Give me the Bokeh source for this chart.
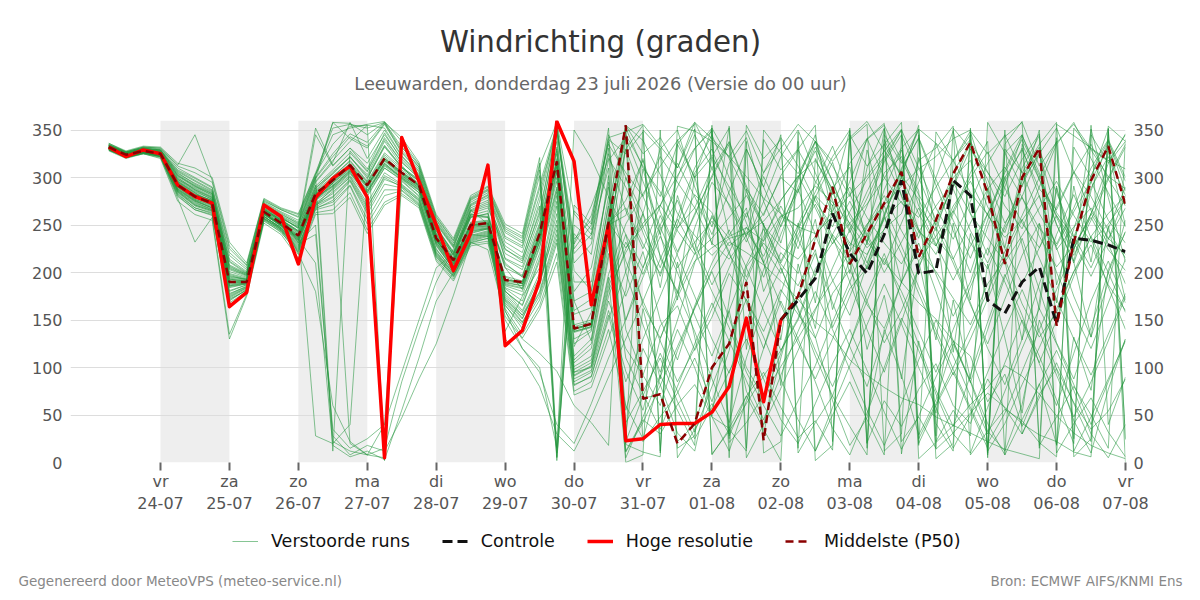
from datetime import datetime, timedelta

from bokeh.embed import file_html
from bokeh.layouts import column
from bokeh.models import (BoxAnnotation, FixedTicker, Label, Legend, LegendItem,
                          LinearAxis, Range1d)
from bokeh.plotting import figure
from bokeh.resources import INLINE

FONT = "DejaVu Sans"

# ---- time axis: 6-hourly steps from Thu 23-07-2026 06:00 (x in days since 23-07 00:00)
run_date = datetime(2026, 7, 23)
n_steps = 60
step_days = 0.25
first_step = 0.25
tick_days = list(range(1, 16))                 # 24-07 ... 07-08
band_days = [1, 3, 5, 7, 9, 11, 13]            # alternate day shading
dutch_days = ["ma", "di", "wo", "do", "vr", "za", "zo"]

# ---- deterministic runs (degrees)
hoge_resolutie = [332, 322, 329, 325, 292, 280, 273, 164, 179, 271,
                  259, 209, 279, 299, 312, 279, 5, 342, 296, 250,
                  202, 241, 313, 123, 139, 192, 359, 317, 166, 250,
                  23, 25, 40, 41, 41, 53, 80, 152, 64, 150]

controle_start = 39
controle = [150, 171, 194, 262, 220, 199, 240, 297, 199, 202,
            297, 281, 171, 157, 190, 206, 146, 236, 234, 229, 222]

middelste_p50 = [332, 324, 328, 325, 292, 280, 273, 190, 190, 264,
                 252, 239, 283, 297, 313, 292, 320, 305, 292, 236,
                 213, 250, 252, 192, 190, 241, 317, 141, 146, 253,
                 355, 67, 72, 20, 41, 100, 125, 190, 23, 150,
                 175, 235, 290, 209, 241, 273, 306, 216, 255, 304,
                 337, 283, 209, 300, 331, 144, 232, 297, 333, 271]

# ---- perturbed ensemble members (degrees)
members = [
    [330,323,327,326,296,284,270,186,188,262, 250,236,281,301,318,296,326,310,296,240, 209,258,262,205,182,232,332,170,128,236, 352,310,285,247,268,231,214,239,262,300, 284,338,276,213,247,305,322,286,41,12, 348,291,226,310,344,187,246,302,339,286],
    [333,325,329,324,290,278,275,193,191,266, 256,244,289,306,321,303,338,313,290,233, 215,266,251,138,175,205,308,122,158,262, 343,22,48,73,110,64,118,206,231,209, 186,224,142,183,205,246,262,318,331,354, 8,33,56,44,21,6,352,329,301,288],
    [331,322,330,327,302,291,281,201,195,270, 259,246,345,312,331,309,347,318,301,246, 221,270,279,214,203,252,345,156,163,272, 355,339,303,262,239,218,236,241,254,276, 301,318,288,262,232,211,190,168,151,128, 112,64,93,38,83,19,132,76,203,243],
    [329,321,326,323,285,271,265,178,185,258, 248,231,276,294,309,284,315,299,284,228, 204,241,246,181,160,199,281,101,112,198, 251,283,312,339,356,9,33,62,91,118, 152,204,231,252,272,299,331,351,14,31, 52,73,58,41,29,22,11,6,354,338],
    [334,326,331,328,306,296,286,211,199,272, 262,251,298,358,341,331,356,326,306,251, 226,271,281,232,221,281,356,202,181,302, 11,42,81,122,163,203,232,221,208,191, 172,148,133,108,92,79,68,61,48,39, 31,22,14,9,4,356,344,331,318,309],
    [332,324,328,325,288,276,268,170,182,260, 245,225,270,285,300,270,300,290,276,221, 199,236,241,171,151,191,262,91,101,181, 221,252,271,302,331,349,21,42,71,101, 131,162,191,222,251,271,291,309,322,341, 350,12,41,82,121,162,201,238,262,281],
    [335,327,332,330,310,300,290,221,205,275, 266,258,301,22,12,8,5,332,311,256, 231,276,286,242,231,302,6,241,219,331, 19,11,6,354,349,338,322,301,278,262, 248,241,259,282,301,328,351,4,21,39, 61,79,102,91,72,49,31,18,10,4],
    [330,322,326,322,280,266,260,165,178,255, 242,221,266,271,291,251,281,286,271,216, 196,231,236,166,141,171,231,81,91,151, 201,262,184,281,223,321,239,268,180,221, 199,256,161,214,119,176,88,212,129,252, 171,289,212,129,251,168,291,211,328,249],
    [336,328,333,332,315,310,300,232,210,278, 268,262,305,352,356,352,358,342,316,261, 236,281,291,251,241,321,16,271,251,352, 31,162,88,211,132,49,171,288,211,129, 252,168,289,311,229,351,9,128,52,171, 88,209,131,52,169,291,211,132,249,171],
    [328,320,325,320,275,261,255,130,175,252, 240,215,261,262,279,241,271,281,268,212, 191,228,231,159,131,161,211,71,79,131, 181,309,241,171,301,229,354,119,252,81, 209,141,271,199,329,261,189,321,249,116, 241,169,301,229,161,289,221,351,279,211],
    [332,324,327,324,294,282,276,195,193,266, 254,241,285,299,315,294,322,306,293,238, 212,252,254,195,188,240,318,143,148,255, 354,68,71,22,40,98,126,191,26,152, 176,236,291,208,240,274,307,216,257,305, 337,285,211,301,332,146,233,296,333,272],
    [331,323,328,326,298,288,279,205,197,268, 257,248,295,316,358,320,350,322,303,248, 218,262,268,225,212,262,350,210,230,318, 342,296,248,205,232,254,228,243,217,259, 268,291,274,252,226,245,302,277,236,214, 252,288,311,279,246,228,264,296,255,231],
    [334,326,330,329,305,293,284,208,199,271, 260,231,250,28,8,18,12,47,88,125, 176,232,224,154,130,115,96,60,42,18, 355,325,342,310,351,8,35,12,350,326, 304,338,312,280,341,357,22,48,15,352, 330,305,280,319,346,10,41,68,32,6],
    [330,321,326,324,287,274,266,175,184,259, 247,229,271,289,306,280,310,297,281,225, 201,239,244,176,155,185,270,95,105,190, 240,165,131,174,212,226,238,247,233,260, 248,281,262,231,219,256,275,243,228,270, 296,260,237,255,281,224,248,268,236,219],
    [333,325,330,327,300,287,278,197,192,267, 255,243,287,304,322,299,333,311,298,241, 214,261,258,210,195,245,325,180,205,290, 12,45,30,61,82,48,36,70,95,58, 26,44,13,352,21,65,38,77,104,60, 41,88,57,30,72,99,63,35,54,88],
    [329,322,327,322,283,268,262,172,181,256, 244,222,267,276,296,262,293,289,273,218, 197,233,238,168,147,180,245,88,97,170, 120,92,144,165,118,153,199,171,138,182, 156,131,178,203,166,141,190,225,201,173, 145,188,214,167,132,158,201,229,187,160],
    [336,327,332,331,312,305,295,225,207,276, 266,259,303,345,352,356,359,338,314,258, 233,278,288,246,236,312,358,262,240,342, 348,356,333,310,358,341,322,349,305,331, 356,338,317,342,359,328,304,351,336,318, 349,325,343,358,312,337,356,330,317,345],
    [331,324,329,325,293,281,272,189,190,263, 251,238,282,296,312,291,318,304,291,235, 209,249,250,190,186,236,312,140,145,250, 260,320,215,180,247,295,272,238,301,262, 225,279,316,258,233,287,329,270,244,300, 318,269,242,296,325,263,237,289,322,281],
    [332,323,328,326,291,279,272,188,189,262, 250,237,280,294,20,8,40,302,289,234, 207,247,249,187,183,232,305,137,142,246, 55,120,82,31,12,95,160,75,40,110, 178,132,65,18,47,140,92,29,66,125, 85,33,12,61,150,98,44,10,77,130],
    [330,322,327,323,286,273,267,177,186,261, 249,234,278,291,307,285,313,300,287,231, 205,244,246,183,170,220,290,112,130,228, 330,355,12,340,300,352,25,330,290,345, 15,320,282,349,20,335,300,355,28,318, 345,10,326,290,350,18,332,300,351,24],
    [333,325,329,325,297,286,277,199,194,268, 256,220,180,60,22,8,15,85,140,190, 225,260,265,160,120,95,40,20,62,110, 150,205,260,218,175,130,94,147,203,250, 288,240,192,155,208,262,300,245,198,154, 190,248,296,331,280,226,175,132,190,255],
    [334,326,331,329,303,292,283,206,198,271, 260,250,296,318,338,355,352,323,304,249, 220,266,274,228,216,270,5,232,270,320, 290,242,196,251,305,330,283,237,195,240, 286,332,296,245,204,258,310,341,292,244, 200,255,308,345,298,251,210,262,315,346],
    [331,323,327,325,295,284,275,192,191,265, 253,240,284,298,314,292,320,306,292,237, 211,251,253,193,188,238,315,141,146,252, 42,75,110,64,25,58,96,130,88,45, 20,62,104,140,97,53,14,49,90,128, 86,41,8,45,82,118,76,30,5,40],
    [329,321,326,322,284,270,264,173,183,257, 246,226,272,283,301,273,305,293,278,222, 200,237,242,174,152,188,255,92,102,185, 232,198,245,276,231,187,221,263,226,199, 240,272,235,208,250,281,244,212,238,265, 231,204,247,279,238,206,229,258,224,202],
    [332,324,328,325,292,280,273,190,190,264, 252,239,283,297,313,292,320,305,292,236, 213,250,252,192,190,241,317,141,146,253, 226,248,271,244,219,236,258,281,249,227, 214,238,265,290,258,231,209,243,270,295, 262,236,211,239,268,296,260,232,251,277],
    [330,322,326,323,289,276,269,181,187,261, 249,232,276,288,304,282,310,298,284,229, 203,243,247,180,165,212,285,105,120,215, 300,262,330,350,290,248,315,342,275,231, 298,345,260,222,310,352,280,236,300,349, 262,218,290,344,305,250,212,286,338,296],
    [333,325,329,327,299,289,280,203,196,269, 257,247,291,308,326,306,340,316,299,244, 218,264,270,215,206,258,338,190,190,295, 140,92,60,118,162,201,152,100,68,115, 175,220,168,122,80,135,190,231,180,128, 84,140,195,236,182,126,88,142,200,243],
    [331,322,327,324,294,282,276,194,192,265, 254,242,286,301,317,295,324,308,294,238, 212,253,255,196,191,243,320,145,150,258, 0,8,350,15,28,355,5,338,10,22, 348,2,18,340,356,12,30,345,4,20, 352,8,335,359,15,342,6,25,348,0],
    [330,322,326,323,287,275,268,176,185,259, 247,230,240,35,15,25,40,95,150,205, 220,258,262,130,110,80,30,12,48,90, 130,170,214,256,223,180,142,95,60,28, 65,102,148,190,232,270,228,185,140,98, 58,20,52,96,140,182,225,262,230,188],
    [334,326,330,328,304,294,285,212,200,272, 261,252,299,322,343,333,357,327,307,252, 227,272,282,236,226,288,350,230,260,335, 305,280,322,295,268,310,337,288,260,302, 329,296,270,315,341,300,273,258,290,318, 284,261,300,329,288,266,305,335,298,270],
    [329,321,326,322,282,268,263,168,180,257, 245,224,269,279,297,265,298,291,275,219, 197,234,239,170,148,178,240,85,95,160, 96,55,130,180,138,88,42,110,166,205, 160,112,70,125,178,220,172,124,76,38, 92,148,198,155,104,60,115,170,212,168],
    [332,324,328,326,293,281,274,191,190,264, 252,239,283,297,313,292,320,305,292,236, 213,250,252,192,190,241,317,141,146,253, 268,230,199,246,282,263,219,191,234,276, 302,268,230,264,298,322,281,245,219,262, 300,327,289,252,226,269,306,280,244,215],
    [333,325,330,327,301,290,282,204,197,270, 258,247,292,12,328,307,342,316,300,244, 219,265,272,220,210,265,350,220,240,310, 20,350,330,5,35,62,30,355,320,340, 10,42,70,38,8,345,315,350,22,55, 28,358,326,345,18,48,80,50,15,340],
    [330,322,327,323,288,275,268,180,187,261, 249,233,277,290,305,284,312,299,286,230, 204,242,246,180,166,215,288,108,125,220, 175,222,150,108,165,210,245,205,160,118, 150,198,240,215,170,126,160,205,248,210, 166,125,172,218,252,200,158,120,168,214],
    [331,323,328,325,292,280,272,187,189,262, 251,237,281,295,311,290,318,303,290,235, 210,249,251,189,186,236,311,138,143,249, 330,280,240,300,345,310,270,232,275,322, 350,305,262,228,270,316,345,300,255,290, 330,298,252,280,325,352,306,265,235,280],
    [334,327,331,329,307,297,287,214,201,273, 263,253,300,325,346,337,358,329,309,253, 228,274,284,238,228,292,355,235,255,338, 200,145,95,150,210,260,222,168,120,178, 235,280,238,190,140,95,148,205,256,215, 168,120,82,130,188,240,282,236,185,140],
    [329,321,325,321,278,232,258,135,177,254, 243,219,263,266,284,245,274,283,270,214, 193,230,233,162,135,165,220,75,85,140, 60,25,90,140,100,48,12,65,120,170, 130,85,36,8,52,100,152,118,72,30, 10,58,105,150,112,66,20,355,40,90],
    [332,324,328,326,295,283,275,193,191,266, 254,235,210,18,6,12,3,55,110,170, 200,240,238,150,120,100,15,350,320,280, 240,205,250,290,330,352,320,285,250,210, 245,285,322,350,15,340,300,262,228,265, 305,338,8,335,298,260,225,262,300,335],
    [331,323,327,325,293,281,273,190,190,263, 251,238,282,296,312,291,319,304,291,235, 211,250,251,191,188,238,314,140,145,251, 276,318,264,222,260,302,338,291,250,212, 250,294,333,283,240,208,252,295,336,288, 244,210,250,292,328,284,238,205,246,290],
    [333,325,329,326,298,287,279,198,193,267, 255,243,28,20,40,299,332,310,296,240, 214,259,258,205,196,248,328,160,172,270, 22,70,115,75,32,80,128,172,132,88, 45,12,58,102,145,188,146,100,58,15, 50,95,140,182,138,92,48,85,128,175],
    [330,322,326,324,290,277,270,184,188,262, 250,235,279,292,308,287,315,301,288,232, 206,246,248,184,176,226,296,125,138,238, 345,312,280,335,358,322,290,258,305,342, 312,275,248,296,340,355,318,282,250,292, 338,306,270,246,290,335,358,320,284,248],
    [332,324,329,326,296,285,277,196,193,267, 255,244,289,304,322,301,334,311,297,242, 216,261,259,208,197,250,330,170,180,280, 212,170,128,85,120,162,205,248,210,166, 125,88,130,175,218,258,220,178,135,92, 130,172,215,256,215,172,130,92,135,178],
    [329,321,325,322,281,266,261,166,179,256, 244,223,268,274,292,256,287,287,272,217, 195,232,236,165,145,175,235,82,90,155, 85,130,175,220,262,300,335,5,40,78, 118,160,205,245,285,322,350,25,62,100, 140,180,222,260,300,338,12,48,88,128],
    [335,327,332,331,313,345,297,228,208,277, 267,261,304,335,354,355,2,335,313,259, 234,279,290,248,238,315,10,265,245,345, 300,248,205,258,310,345,300,252,210,255, 300,338,296,250,210,260,308,342,298,255, 215,262,305,340,302,258,218,255,298,332],
    [331,323,328,325,291,279,271,186,189,262, 250,236,280,294,310,289,317,302,289,234, 208,248,249,188,184,233,308,138,143,248, 150,195,238,200,155,112,160,208,246,205, 162,118,80,125,170,215,180,138,95,140, 185,226,190,148,105,150,196,238,200,158],
    [330,322,327,324,286,272,266,174,184,259, 247,228,273,287,302,279,15,296,280,224, 202,238,243,178,158,195,275,98,108,195, 5,48,92,55,18,350,28,70,35,2, 338,12,50,85,45,8,345,20,60,95, 55,15,350,30,68,105,62,22,352,25],
    [333,326,330,328,302,291,283,207,198,271, 259,249,352,313,331,315,345,320,302,247, 222,268,276,224,214,275,352,225,250,325, 265,225,270,315,280,240,285,330,290,248, 290,328,285,242,278,318,350,310,268,235, 275,315,345,305,262,230,268,310,340,300],
    [331,323,327,324,290,277,271,185,188,262, 250,234,279,291,307,286,314,300,287,232, 207,245,247,186,180,228,300,130,140,240, 110,72,35,80,125,168,128,86,45,92, 138,180,140,98,55,18,62,108,150,112, 70,30,75,120,162,125,82,40,85,130],
    [334,326,331,329,308,299,289,218,203,274, 264,255,302,358,357,345,358,332,311,255, 229,277,287,244,233,308,2,250,235,340, 325,348,10,335,300,322,352,15,340,308, 330,355,22,345,312,335,358,18,348,318, 340,5,330,305,335,358,25,345,315,338],
    [330,322,326,323,285,271,265,171,182,257, 246,227,271,280,298,268,302,292,277,220, 199,235,240,172,155,190,250,95,100,175, 225,262,218,178,220,258,236,195,238,270, 235,196,240,275,238,200,232,268,230,192, 228,262,225,188,226,260,232,196,235,268],
]

# series styles (shared by the chart and its legend)
RUN_STYLE = dict(line_color="#22963c", line_alpha=0.55, line_width=1)
CTRL_STYLE = dict(line_color="#111111", line_width=3, line_dash="10 5")
HRES_STYLE = dict(line_color="#ff0000", line_width=3.5, line_join="round")
P50_STYLE = dict(line_color="#8b0000", line_width=2.5, line_dash="8 5")

x_steps = [first_step + step_days * i for i in range(n_steps)]
NAN = float("nan")


def text_panel(height, y_top):
    """A borderless strip whose data units are page pixels."""
    return figure(width=1200, height=height, output_backend="svg",
                  toolbar_location=None, x_axis_type=None, y_axis_type=None,
                  x_range=Range1d(0, 1200), y_range=Range1d(y_top + height, y_top),
                  min_border=0, outline_line_color=None, frame_align=False,
                  background_fill_color="white", border_fill_color="white")


# ---- header with title and subtitle
header = text_panel(110, 0)
header.add_layout(Label(x=600, y=41, text="Windrichting (graden)", text_font=FONT,
                        text_font_size="29.3px", text_color="#333333",
                        text_align="center", text_baseline="middle"))
header.add_layout(Label(x=600, y=83,
                        text="Leeuwarden, donderdag 23 juli 2026 (Versie do 00 uur)",
                        text_font=FONT, text_font_size="17.8px", text_color="#666666",
                        text_align="center", text_baseline="middle"))

# ---- main chart
p = figure(width=1200, height=414, output_backend="svg", toolbar_location=None,
           x_range=Range1d(1 - 90 / 68.93, 15.0), y_range=Range1d(0, 360),
           min_border_left=70, min_border_right=75, min_border_top=10,
           min_border_bottom=62, background_fill_color="white", frame_align=False,
           border_fill_color="white", outline_line_color=None)

for d in band_days:
    p.add_layout(BoxAnnotation(left=d, right=d + 1, fill_color="#eeeeee",
                               fill_alpha=1.0, line_color=None, level="image"))

p.multi_line(xs=[x_steps[:len(m)] for m in members], ys=members, **RUN_STYLE)
p.line(x_steps[controle_start:controle_start + len(controle)], controle, **CTRL_STYLE)
p.line(x_steps[:len(hoge_resolutie)], hoge_resolutie, **HRES_STYLE)
p.line(x_steps[:len(middelste_p50)], middelste_p50, **P50_STYLE)

yticks = list(range(0, 351, 50))
p.yaxis[0].ticker = FixedTicker(ticks=yticks)
right_axis = LinearAxis(ticker=FixedTicker(ticks=yticks))
p.add_layout(right_axis, "right")
for ax in (p.yaxis[0], right_axis):
    ax.axis_line_color = None
    ax.major_tick_line_color = None
    ax.minor_tick_line_color = None
    ax.major_label_text_font = FONT
    ax.major_label_text_font_size = "16px"
    ax.major_label_text_color = "#555555"
    ax.major_label_standoff = 2

labels = {}
for d in tick_days:
    dt = run_date + timedelta(days=d)
    labels[d] = f"{dutch_days[dt.weekday()]}\n{dt.strftime('%d-%m')}"
xa = p.xaxis[0]
xa.ticker = FixedTicker(ticks=tick_days)
xa.major_label_overrides = labels
xa.axis_line_color = None
xa.minor_tick_line_color = None
xa.major_tick_line_color = "#666666"
xa.major_tick_line_width = 2
xa.major_tick_out = 8
xa.major_tick_in = 0
xa.major_label_standoff = 1
xa.major_label_text_font = FONT
xa.major_label_text_font_size = "16px"
xa.major_label_text_color = "#555555"

p.xgrid.grid_line_color = None
p.ygrid.ticker = FixedTicker(ticks=yticks)
p.ygrid.grid_line_color = "#dddddd"
p.ygrid.grid_line_width = 1

# ---- footer strip: legend and credits (legend keys use placeholder renderers)
footer = text_panel(76, 524)
leg_runs = footer.multi_line(xs=[[NAN]], ys=[[NAN]], **RUN_STYLE)
leg_ctrl = footer.line(x=[NAN], y=[NAN], **CTRL_STYLE)
leg_hres = footer.line(x=[NAN], y=[NAN], **HRES_STYLE)
leg_p50 = footer.line(x=[NAN], y=[NAN], **P50_STYLE)
legend = Legend(items=[
    LegendItem(label="Verstoorde runs", renderers=[leg_runs]),
    LegendItem(label="Controle", renderers=[leg_ctrl]),
    LegendItem(label="Hoge resolutie", renderers=[leg_hres]),
    LegendItem(label="Middelste (P50)", renderers=[leg_p50]),
], orientation="horizontal", location=(232, 49), border_line_color=None,
    background_fill_alpha=0, label_text_font=FONT, label_text_font_size="17.5px",
    label_text_color="#111111", glyph_width=26, label_standoff=13, spacing=32,
    padding=4, margin=0)
footer.add_layout(legend, "center")
footer.add_layout(Label(x=18, y=580, text="Gegenereerd door MeteoVPS (meteo-service.nl)",
                        text_font=FONT, text_font_size="13.5px", text_color="#888888",
                        text_align="left", text_baseline="middle"))
footer.add_layout(Label(x=1182, y=580, text="Bron: ECMWF AIFS/KNMI Ens",
                        text_font=FONT, text_font_size="13.5px", text_color="#888888",
                        text_align="right", text_baseline="middle"))

page = column(header, p, footer, spacing=0)
open("out.html", "w").write(file_html(page, INLINE))
